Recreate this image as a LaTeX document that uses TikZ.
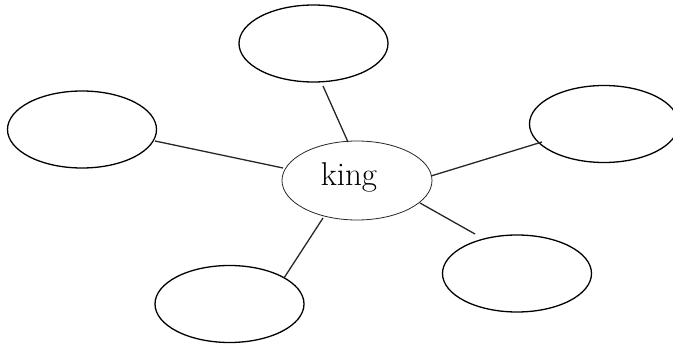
\documentclass[tikz,border=0pt]{standalone}
\usetikzlibrary{shapes.geometric}
\begin{document}
\begin{tikzpicture}[x=1pt,y=-1pt,
  bubble/.style={draw=black,line width=1.3pt,ellipse,minimum width=149pt,minimum height=77pt,inner sep=0pt},
  hub/.style={draw=black!85,line width=0.8pt,ellipse,minimum width=150pt,minimum height=79pt,inner sep=0pt},
  hubtext/.style={inner sep=0pt,font=\fontsize{33}{40}\selectfont},
  link/.style={draw=black!85,line width=1.3pt}]
\useasboundingbox (0,0) rectangle (673,347);
\node[hub] (king) at (357,180.5) {};
\node[hubtext] (kingtext) at (349,177) {king};
\node[bubble] (top) at (313.5,43.5) {};
\node[bubble] (left) at (82,129.5) {};
\node[bubble] (right) at (604,124) {};
\node[bubble] (bl) at (229.5,304) {};
\node[bubble] (br) at (517,273.5) {};
\coordinate (t1) at (348,142); \coordinate (t2) at (323,86);
\coordinate (l1) at (283,168); \coordinate (l2) at (155,141);
\coordinate (r1) at (431,176); \coordinate (r2) at (542,142);
\coordinate (b1) at (323,218); \coordinate (b2) at (284,278);
\coordinate (s1) at (420,203); \coordinate (s2) at (475,234);
\draw[link] (t1) -- (t2);
\draw[link] (l1) -- (l2);
\draw[link] (r1) -- (r2);
\draw[link] (b1) -- (b2);
\draw[link] (s1) -- (s2);
\end{tikzpicture}
\end{document}
